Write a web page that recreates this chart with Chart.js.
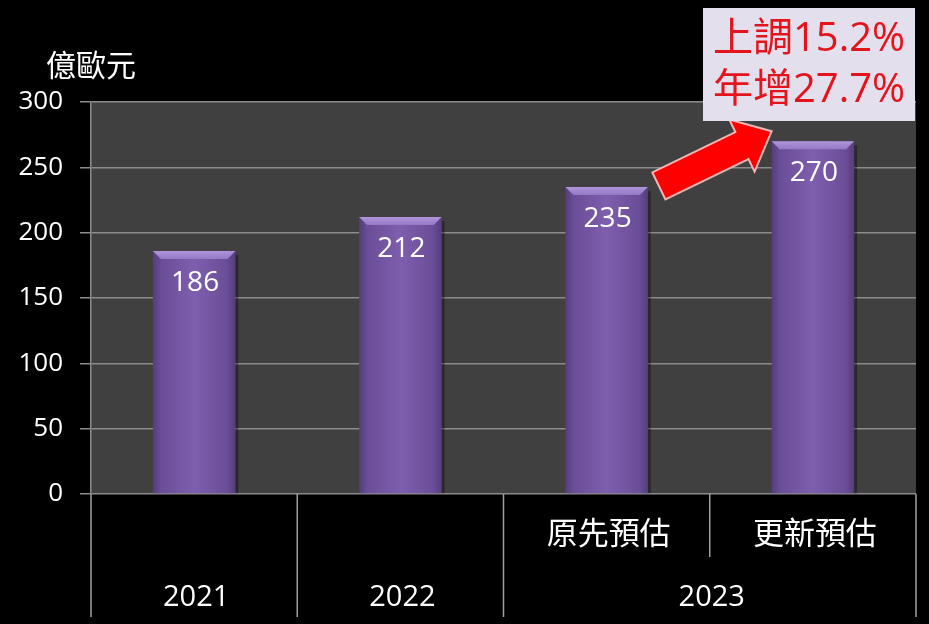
<!DOCTYPE html>
<html>
<head>
<meta charset="utf-8">
<script src="https://cdn.jsdelivr.net/npm/chart.js@4"></script>
<style>
  html, body { margin: 0; padding: 0; background: #000; }
  #wrap { width: 929px; height: 624px; position: relative; }
</style>
</head>
<body>
<div id="wrap"><canvas id="chart"></canvas></div>
<script>
// ---- data ----
const subLabels = ['', '', '原先預估', '更新預估'];
const groupLabels = ['2021', '2022', '2023'];
const groupSpans = [1, 1, 2];
const values = [186, 212, 235, 270];
const yMin = 0;
const yMax = 300;
const yStep = 50;
const unitLabel = '億歐元';
const noteLines = ['上調15.2%', '年增27.7%'];

const FONT = "'Open Sans', 'Noto Sans CJK TC', sans-serif";
const LINE = '#8c8c8c';
const BAR_PCT = 0.4;

// horizontal shading across each bar, from the x scale
function barFill(c) {
  const chart = c.chart;
  const a = chart.chartArea;
  const xs = chart.scales.x;
  if (!a || !xs || c.dataIndex == null) return '#7a5aa8';
  const cx = xs.getPixelForValue(c.dataIndex);
  const w = (a.right - a.left) / values.length * BAR_PCT;
  const g = chart.ctx.createLinearGradient(cx - w / 2, 0, cx + w / 2, 0);
  g.addColorStop(0, '#553d7a');
  g.addColorStop(0.1, '#6a4d97');
  g.addColorStop(0.5, '#7e5eae');
  g.addColorStop(0.9, '#6a4d97');
  g.addColorStop(1, '#553d7a');
  return g;
}

const decor = {
  id: 'decor',
  beforeDraw(chart) {
    const { ctx, chartArea: a } = chart;
    ctx.save();
    ctx.fillStyle = '#404040';
    ctx.fillRect(a.left, a.top, a.right - a.left, a.bottom - a.top);
    ctx.restore();
  },
  beforeDatasetsDraw(chart) {
    const { ctx } = chart;
    const meta = chart.getDatasetMeta(0);
    ctx.save();
    meta.data.forEach((bar) => {
      // soft shadow on the right side
      ctx.fillStyle = 'rgba(0,0,0,0.35)';
      ctx.fillRect(bar.x + bar.width / 2, bar.y + 4, 3, bar.base - bar.y - 4);
    });
    ctx.restore();
  },
  afterDatasetsDraw(chart) {
    const { ctx } = chart;
    const meta = chart.getDatasetMeta(0);
    ctx.save();
    meta.data.forEach((bar, i) => {
      const l = bar.x - bar.width / 2, r = bar.x + bar.width / 2, t = bar.y;
      const b = 8;
      // top bevel
      const g = ctx.createLinearGradient(0, t, 0, t + b);
      g.addColorStop(0, '#b095dc');
      g.addColorStop(1, '#9479c4');
      ctx.fillStyle = g;
      ctx.beginPath();
      ctx.moveTo(l, t); ctx.lineTo(r, t); ctx.lineTo(r - b, t + b); ctx.lineTo(l + b, t + b);
      ctx.closePath(); ctx.fill();
      // value label
      ctx.fillStyle = '#ffffff';
      ctx.font = '28px ' + FONT;
      ctx.textAlign = 'center';
      ctx.textBaseline = 'middle';
      ctx.fillText(String(values[i]), bar.x + 1, t + 32);
    });
    ctx.restore();
  },
  afterDraw(chart) {
    const { ctx, chartArea: a, scales } = chart;
    const x = scales.x;
    const n = values.length;
    const cw = (a.right - a.left) / n;
    const edge = (i) => a.left + i * cw;
    ctx.save();

    // category axis: separators and labels
    ctx.strokeStyle = '#a0a0a0';
    ctx.lineWidth = 1.5;
    let start = 0;
    const longBottom = a.bottom + 123;
    const shortBottom = a.bottom + 63;
    ctx.beginPath();
    ctx.moveTo(edge(0), a.bottom); ctx.lineTo(edge(0), longBottom);
    groupSpans.forEach((span) => {
      for (let k = 1; k < span; k++) {
        ctx.moveTo(edge(start + k), a.bottom); ctx.lineTo(edge(start + k), shortBottom);
      }
      start += span;
      ctx.moveTo(edge(start), a.bottom); ctx.lineTo(edge(start), longBottom);
    });
    ctx.stroke();

    ctx.fillStyle = '#ffffff';
    ctx.textAlign = 'center';
    ctx.textBaseline = 'middle';
    ctx.font = '31px ' + FONT;
    subLabels.forEach((s, i) => {
      if (s) ctx.fillText(s, x.getPixelForValue(i) + 2, a.bottom + 41);
    });
    ctx.font = '29px ' + FONT;
    start = 0;
    groupLabels.forEach((g, gi) => {
      const cx = (edge(start) + edge(start + groupSpans[gi])) / 2;
      ctx.fillText(g, cx + 2, a.bottom + 104);
      start += groupSpans[gi];
    });

    // unit label
    ctx.font = '30px ' + FONT;
    ctx.fillText(unitLabel, a.left, a.top - 35);

    // arrow from original to updated estimate
    const meta = chart.getDatasetMeta(0);
    const b3 = meta.data[2], b4 = meta.data[3];
    const tx = b3.x + b3.width / 2 + 11, ty = b3.y - 1;
    const hx = b4.x - b4.width / 2, hy = b4.y - 10;
    const dx = hx - tx, dy = hy - ty;
    const len = Math.hypot(dx, dy);
    const ux = dx / len, uy = dy / len;
    const px = -uy, py = ux;
    const sw = 15, hw = 29, hl = 33;
    const bx = hx - ux * hl, by = hy - uy * hl;
    ctx.beginPath();
    ctx.moveTo(tx + px * sw, ty + py * sw);
    ctx.lineTo(bx + px * sw, by + py * sw);
    ctx.lineTo(bx + px * hw, by + py * hw);
    ctx.lineTo(hx, hy);
    ctx.lineTo(bx - px * hw, by - py * hw);
    ctx.lineTo(bx - px * sw, by - py * sw);
    ctx.lineTo(tx - px * sw, ty - py * sw);
    ctx.closePath();
    ctx.fillStyle = '#ff0000';
    ctx.fill();
    ctx.strokeStyle = '#f3b6b6';
    ctx.lineWidth = 2;
    ctx.stroke();

    // note box
    const bxL = 703, bxT = 8, bxW = 212, bxH = 113;
    ctx.fillStyle = '#e4dfec';
    ctx.fillRect(bxL, bxT, bxW, bxH);
    ctx.fillStyle = '#e3141c';
    ctx.font = '40px ' + FONT;
    ctx.textAlign = 'center';
    ctx.fillText(noteLines[0], bxL + bxW / 2, 40);
    ctx.fillText(noteLines[1], bxL + bxW / 2, 91);

    ctx.restore();
  }
};

new Chart(document.getElementById('chart'), {
  type: 'bar',
  data: {
    labels: subLabels,
    datasets: [{
      data: values,
      backgroundColor: barFill,
      borderWidth: 0,
      barPercentage: BAR_PCT,
      categoryPercentage: 1
    }]
  },
  options: {
    responsive: true,
    maintainAspectRatio: false,
    animation: false,
    events: [],
    layout: { padding: { top: 102, right: 13, left: 0, bottom: 0 } },
    plugins: { legend: { display: false }, tooltip: { enabled: false } },
    scales: {
      x: {
        ticks: { display: false },
        grid: { display: false },
        border: { display: false },
        afterFit: (s) => { s.height = 130; }
      },
      y: {
        min: yMin,
        max: yMax,
        ticks: {
          stepSize: yStep,
          color: '#ffffff',
          font: { family: FONT, size: 26 },
          padding: 17
        },
        grid: { color: LINE, lineWidth: 1.5, tickLength: 11, drawTicks: true },
        border: { display: true, color: LINE, width: 1.5 },
        afterFit: (s) => { s.width = 91; }
      }
    }
  },
  plugins: [decor]
});
</script>
</body>
</html>
